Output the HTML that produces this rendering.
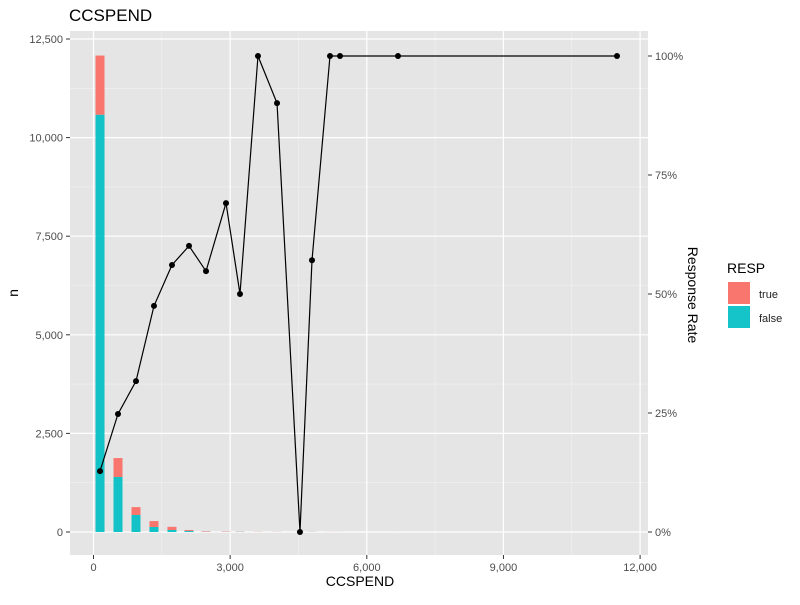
<!DOCTYPE html>
<html><head><meta charset="utf-8"><style>
body{margin:0;background:#fff;font-family:"Liberation Sans",sans-serif}
svg text{font-family:"Liberation Sans",sans-serif}
</style></head><body>
<svg id="chart" width="800" height="600" xmlns="http://www.w3.org/2000/svg">
<text x="69" y="21" font-size="17" fill="#000">CCSPEND</text>
<rect x="70" y="31" width="578" height="524" fill="#e5e5e5"/>
<g id="grid"></g><g id="bars"></g><g id="line"></g><g id="axes"></g>
<text x="360" y="586" font-size="14" text-anchor="middle">CCSPEND</text>
<text transform="translate(18,293) rotate(-90)" font-size="14" text-anchor="middle">n</text>
<text transform="translate(688,295) rotate(90)" font-size="14" text-anchor="middle">Response Rate</text>
<g>
<text x="727" y="273" font-size="14">RESP</text>
<rect x="728" y="282" width="22" height="22" fill="#f8766d"/>
<text x="759" y="298" font-size="11" fill="#222">true</text>
<rect x="728" y="306" width="22" height="22" fill="#00bfc4" fill-opacity="0.92"/>
<text x="759" y="322" font-size="11" fill="#222">false</text>
</g>
</svg>
<script>
const binCenters=[143,538,933,1328,1723,2097,2470,2909,3216,3611,4029,4533,4797,5192,5412,6685,11493];
const countTrue=[1500,480,200,150,80,25,12,8,5,4,3,0,3,2,1,1,1];
const countFalse=[10580,1395,431,127,51,25,5,3,5,0,1,2,2,0,0,0,0];
const respRate=[12.8,24.8,31.7,47.5,56.1,60.1,54.8,69.1,50,100,90.1,0,57.1,100,100,100,100];
const xTicks=[0,3000,6000,9000,12000];
const yTicks=[0,2500,5000,7500,10000,12500];
const y2Ticks=[0,25,50,75,100];
const NS="http://www.w3.org/2000/svg";
const X=v=>93.5+v*0.04555, Y=v=>532-v*0.03944, Y2=p=>532-p*4.76;
function mk(parent,tag,attrs){const e=document.createElementNS(NS,tag);for(const k in attrs)e.setAttribute(k,attrs[k]);document.getElementById(parent).appendChild(e);return e;}
// minor grid
for(let v=1500;v<12000;v+=3000){const l=mk('grid','line',{x1:X(v),x2:X(v),y1:31,y2:555,stroke:'#f2f2f2','stroke-width':0.6});}
for(let v=1250;v<12500;v+=2500){const l=mk('grid','line',{x1:70,x2:648,y1:Y(v),y2:Y(v),stroke:'#f2f2f2','stroke-width':0.6});}
xTicks.forEach(t=>{const l=mk('grid','line',{x1:X(t),x2:X(t),y1:31,y2:555,stroke:'#fff','stroke-width':1.2});
const tk=mk('axes','line',{x1:X(t),x2:X(t),y1:555,y2:559,stroke:'#333'});
const tx=mk('axes','text',{x:X(t),y:571,'font-size':11,fill:'#4d4d4d','text-anchor':'middle'});tx.textContent=t.toLocaleString('en-US');});
yTicks.forEach(t=>{const l=mk('grid','line',{x1:70,x2:648,y1:Y(t),y2:Y(t),stroke:'#fff','stroke-width':1.2});
const tk=mk('axes','line',{x1:66,x2:70,y1:Y(t),y2:Y(t),stroke:'#333'});
const tx=mk('axes','text',{x:63,y:Y(t)+4,'font-size':11,fill:'#4d4d4d','text-anchor':'end'});tx.textContent=t.toLocaleString('en-US');});
y2Ticks.forEach(t=>{const tk=mk('axes','line',{x1:648,x2:652,y1:Y2(t),y2:Y2(t),stroke:'#333'});
const tx=mk('axes','text',{x:655,y:Y2(t)+4,'font-size':11,fill:'#4d4d4d'});tx.textContent=t+'%';});
binCenters.forEach((c,i)=>{const x=X(c)-4.5,f=countFalse[i],t=countTrue[i];
const bf=mk('bars','rect',{x:x,width:9,y:Y(f),height:Y(0)-Y(f),fill:'#00bfc4','fill-opacity':0.92});
const bt=mk('bars','rect',{x:x,width:9,y:Y(f+t),height:Y(f)-Y(f+t),fill:'#f8766d'});});
const pts=binCenters.map((c,i)=>X(c)+','+Y2(respRate[i])).join(' ');
const pl=mk('line','polyline',{points:pts,fill:'none',stroke:'#000','stroke-width':1.2});
binCenters.forEach((c,i)=>{const p=mk('line','circle',{cx:X(c),cy:Y2(respRate[i]),r:3,fill:'#000'});});
</script>
</body></html>
